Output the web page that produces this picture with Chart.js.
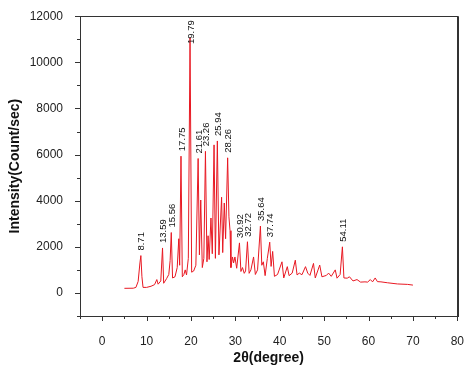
<!DOCTYPE html>
<html>
<head>
<meta charset="utf-8">
<script src="https://cdn.jsdelivr.net/npm/chart.js@4"></script>
<style>
  html, body { margin: 0; padding: 0; background: #fff; }
  #wrap { width: 474px; height: 367px; }
</style>
</head>
<body>
<div id="wrap"><canvas id="chart" width="474" height="367"></canvas></div>
<script>
// XRD pattern
var twoTheta = [
  5.0, 7.0, 7.6, 8.1, 8.5, 8.71, 8.95, 9.2, 10.0, 11.0,
  11.8, 12.3, 12.6, 13.2, 13.59, 13.85, 14.5, 15.0, 15.3, 15.56,
  15.85, 16.4, 16.9, 17.25, 17.45, 17.75, 18.05, 18.4, 18.7, 19.0,
  19.4, 19.79, 20.15, 20.6, 21.1, 21.61, 21.9, 22.2, 22.55, 22.9,
  23.26, 23.6, 23.85, 24.1, 24.5, 24.8, 25.2, 25.5, 25.94, 26.3,
  26.9, 27.15, 27.5, 27.8, 28.26, 28.55, 28.8, 29.0, 29.35, 29.6,
  29.9, 30.3, 30.92, 31.25, 31.6, 32.0, 32.3, 32.72, 33.1, 33.5,
  34.1, 34.5, 35.0, 35.64, 35.95, 36.3, 36.7, 37.2, 37.74, 38.05,
  38.4, 38.8, 39.5, 40.5, 40.9, 41.7, 42.1, 42.8, 43.5, 43.9,
  44.4, 45.0, 45.8, 46.3, 46.8, 47.6, 48.0, 49.0, 49.5, 50.5,
  51.0, 51.6, 52.5, 52.9, 53.6, 54.11, 54.45, 55.2, 55.7, 56.5,
  57.4, 58.2, 59.2, 59.8, 60.4, 60.9, 61.5, 62.0, 62.8, 64.3,
  66.5, 68.8, 70.0
];
var intensity = [
  200, 205, 240, 500, 1300, 1620, 700, 240, 240, 290,
  360, 580, 380, 520, 1950, 420, 620, 800, 1400, 2620,
  650, 700, 1100, 2350, 1200, 5930, 700, 800, 1000, 780,
  1500, 11060, 900, 950, 1200, 5830, 1650, 4030, 1100, 1500,
  6140, 1350, 2480, 1450, 3250, 1700, 6420, 1500, 6590, 1650,
  4150, 1750, 3900, 2350, 5860, 3300, 2700, 1100, 1560, 1300,
  1560, 1070, 2170, 930, 1100, 850, 950, 2220, 850, 1000,
  1560, 800, 1000, 2900, 1200, 1350, 750, 1500, 2200, 1150,
  1800, 720, 800, 1350, 650, 1140, 750, 860, 1420, 780,
  860, 790, 1140, 860, 760, 1280, 650, 1210, 700, 760,
  860, 720, 1000, 640, 800, 2000, 650, 640, 700, 520,
  580, 470, 480, 470, 580, 480, 650, 490, 480, 440,
  390, 370, 340
];

// labelled peaks
var peakTheta = [8.71, 13.59, 15.56, 17.75, 19.79, 21.61, 23.26, 25.94, 28.26, 30.92, 32.72, 35.64, 37.74, 54.11];

var xMajorTicks = [0, 10, 20, 30, 40, 50, 60, 70, 80];
var xMinorTicks = [-5, 5, 15, 25, 35, 45, 55, 65, 75];
var yMajorTicks = [0, 2000, 4000, 6000, 8000, 10000, 12000];
var yMinorTicks = [-1000, 1000, 3000, 5000, 7000, 9000, 11000];

var points = twoTheta.map(function (t, i) { return { x: t, y: intensity[i] } });

var frameAndLabels = {
  id: 'frameAndLabels',
  afterDraw: function (chart) {
    var ctx = chart.ctx
    var a = chart.chartArea
    var xs = chart.scales.x
    var ys = chart.scales.y
    ctx.save()
    ctx.strokeStyle = '#333'
    ctx.lineWidth = 1
    ctx.strokeRect(Math.round(a.left) + 0.5, Math.round(a.top) + 0.5, Math.round(a.right - a.left), Math.round(a.bottom - a.top))
    ctx.lineWidth = 2
    ctx.beginPath()
    ctx.moveTo(Math.round(a.right) + 1, a.top)
    ctx.lineTo(Math.round(a.right) + 1, a.bottom + 1)
    ctx.stroke()

    ctx.lineWidth = 1
    ctx.beginPath()
    yMajorTicks.forEach(function (v) {
      var p = Math.round(ys.getPixelForValue(v)) + 0.5
      ctx.moveTo(a.left - 5, p); ctx.lineTo(a.left, p)
    })
    yMinorTicks.forEach(function (v) {
      var p = Math.round(ys.getPixelForValue(v)) + 0.5
      ctx.moveTo(a.left - 3, p); ctx.lineTo(a.left, p)
    })
    xMajorTicks.forEach(function (v) {
      var p = Math.round(xs.getPixelForValue(v)) + 0.5
      ctx.moveTo(p, a.bottom); ctx.lineTo(p, a.bottom + 5)
    })
    xMinorTicks.forEach(function (v) {
      var p = Math.round(xs.getPixelForValue(v)) + 0.5
      ctx.moveTo(p, a.bottom); ctx.lineTo(p, a.bottom + 3)
    })
    ctx.stroke()

    // peak labels, rotated
    ctx.fillStyle = '#111'
    ctx.font = '9.5px "Liberation Sans", Arial, sans-serif'
    ctx.textAlign = 'left'
    ctx.textBaseline = 'middle'
    peakTheta.forEach(function (t) {
      var i = twoTheta.indexOf(t)
      var text = t.toFixed(2)
      var w = ctx.measureText(text).width
      var px = xs.getPixelForValue(t) + 1
      var py = ys.getPixelForValue(intensity[i]) - 5
      py = Math.max(py, a.top + 4 + w)
      ctx.save()
      ctx.translate(px, py)
      ctx.rotate(-Math.PI / 2)
      ctx.fillText(text, 0, 0)
      ctx.restore()
    })
    ctx.restore()
  }
}

new Chart(document.getElementById('chart'), {
  type: 'scatter',
  data: {
    datasets: [{
      data: points,
      showLine: true,
      borderColor: 'rgb(232, 24, 34)',
      borderWidth: 1,
      pointRadius: 0,
      tension: 0
    }]
  },
  options: {
    responsive: false,
    animation: false,
    layout: { padding: { top: 8, right: 14, left: 0, bottom: 0 } },
    plugins: { legend: { display: false }, tooltip: { enabled: false } },
    scales: {
      x: {
        type: 'linear',
        min: -5,
        max: 80,
        grid: { display: false },
        border: { display: false },
        afterBuildTicks: function (s) { s.ticks = xMajorTicks.map(function (v) { return { value: v } }) },
        afterFit: function (s) { s.height = 51 },
        ticks: { padding: 10, color: '#222', font: { family: '"Liberation Sans", Arial', size: 12 }, callback: function (v) { return String(v) } },
        title: { display: true, text: '2θ(degree)', color: '#111', padding: { top: 4, bottom: 0 }, font: { family: '"Liberation Sans", Arial', size: 14, weight: 'bold' } }
      },
      y: {
        min: -1000,
        max: 12000,
        grid: { display: false },
        border: { display: false },
        afterBuildTicks: function (s) { s.ticks = yMajorTicks.map(function (v) { return { value: v } }) },
        afterFit: function (s) { s.width = 80 },
        ticks: { padding: 9, color: '#222', font: { family: '"Liberation Sans", Arial', size: 12 }, callback: function (v) { return String(v) } },
        title: { display: true, text: 'Intensity(Count/sec)', color: '#111', padding: { top: 7, bottom: 0 }, font: { family: '"Liberation Sans", Arial', size: 14, weight: 'bold' } }
      }
    }
  },
  plugins: [frameAndLabels]
})
</script>
</body>
</html>
